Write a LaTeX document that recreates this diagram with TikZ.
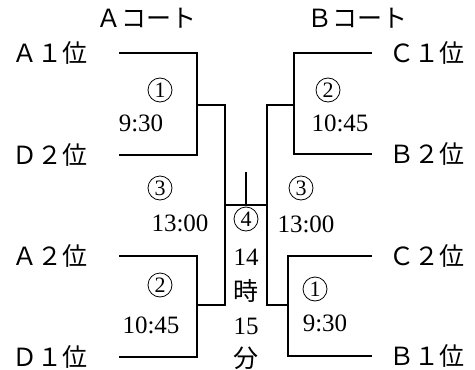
\documentclass[tikz,border=0pt]{standalone}
\usepackage{fontspec}
\setmainfont{Liberation Serif}
\newfontfamily\jp{Noto Sans CJK JP}
\usetikzlibrary{positioning}
\tikzset{>=stealth}
\tikzset{team/.style={inner sep=0pt, font=\jp\fontsize{12.5}{14}\selectfont},
  court/.style={inner sep=0pt, font=\jp\fontsize{12.5}{14}\selectfont},
  gameno/.style={circle, draw, line width=0.4pt, inner sep=0pt, minimum size=12pt, font=\fontsize{11}{12}\selectfont},
  gametime/.style={inner sep=0pt, font=\fontsize{12.5}{14}\selectfont},
  bracket/.style={line width=0.75pt}}

\begin{document}
\begin{tikzpicture}[x=0.5pt, y=-0.5pt]
\useasboundingbox (0,0) rectangle (475,369);
\node[court] (courtA) at (146,18) {Ａコート};
\node[court] (courtB) at (357,18) {Ｂコート};
\node[team] (A1) at (50,53) {Ａ１位};
\node[team] (D2) at (50,155) {Ｄ２位};
\node[team] (A2) at (50,256) {Ａ２位};
\node[team] (D1) at (50,357) {Ｄ１位};
\node[team] (C1) at (427,53) {Ｃ１位};
\node[team] (B2) at (427,154) {Ｂ２位};
\node[team] (C2) at (427,256) {Ｃ２位};
\node[team] (B1) at (427,356) {Ｂ１位};
\coordinate (la1) at (119,53);
\coordinate (ld2) at (119,155);
\coordinate (la2) at (119,256);
\coordinate (ld1) at (119,357);
\coordinate (rc1) at (372,53);
\coordinate (rb2) at (372,154);
\coordinate (rc2) at (372,256);
\coordinate (rb1) at (372,356);
\coordinate (j1) at (197,105);
\coordinate (j2) at (197,305);
\coordinate (j3) at (294,105);
\coordinate (j4) at (288,305);
\coordinate (semiA) at (225,205);
\coordinate (semiB) at (267,205);
\coordinate (final) at (246,172);
% game numbers and times
\node[gameno] (g1a) at (160,90) {1};
\node[gametime] (t1a) at (141,123) {9:30};
\node[gameno] (g3a) at (160,188) {3};
\node[gametime] (t3a) at (180,223) {13:00};
\node[gameno] (g2a) at (160,285) {2};
\node[gametime] (t2a) at (151,325) {10:45};
\node[gameno] (g2b) at (328,90) {2};
\node[gametime] (t2b) at (340,123) {10:45};
\node[gameno] (g3b) at (301,188) {3};
\node[gametime] (t3b) at (306,224) {13:00};
\node[gameno] (g1b) at (315,289) {1};
\node[gametime] (t1b) at (325,323) {9:30};
% final
\node[gameno] (g4) at (246,219) {4};
\node[gametime] (f1) at (246,257) {14};
\node[team] (f2) at (246,291) {時};
\node[gametime] (f3) at (246,326) {15};
\node[team] (f4) at (246,358) {分};
\draw[bracket] (la1) -| (j1) |- (ld2);
\draw[bracket] (la2) -| (j2) |- (ld1);
\draw[bracket] (rc1) -| (j3) |- (rb2);
\draw[bracket] (rc2) -| (j4) |- (rb1);
\draw[bracket] (j1) -| (semiA);
\draw[bracket] (j2) -| (semiA);
\draw[bracket] (j3) -| (semiB);
\draw[bracket] (j4) -| (semiB);
\draw[bracket] (semiA) -- (semiB);
\draw[bracket] (final) -- (final |- semiA);
\end{tikzpicture}
\end{document}
